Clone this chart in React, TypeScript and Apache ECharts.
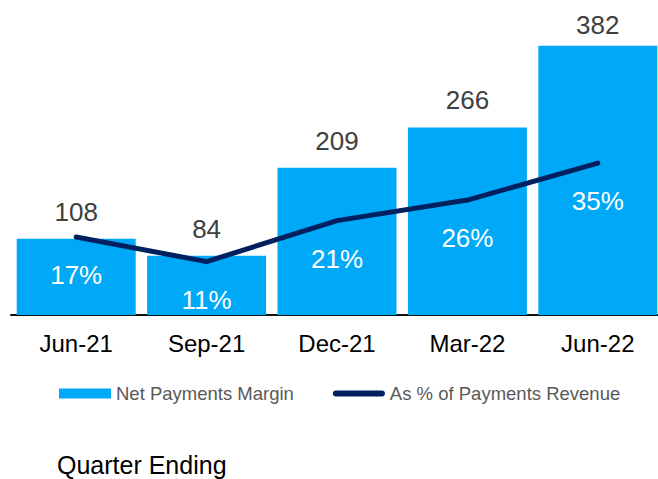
import React, { useEffect, useRef } from "react";
import * as echarts from "echarts";

const categories = ["Jun-21", "Sep-21", "Dec-21", "Mar-22", "Jun-22"];
const netPaymentsMargin = [108, 84, 209, 266, 382];
const pctOfPaymentsRevenue = [17, 11, 21, 26, 35];
const seriesNames = ["Net Payments Margin", "As % of Payments Revenue"];
const axisTitle = "Quarter Ending";

const FONT = '"Liberation Sans", Arial, Helvetica, sans-serif';
const BAR_COLOR = "#00A9F7";
const LINE_COLOR = "#002060";
const LINE_ICON = "path://M3,0 L49,0 A3,3 0 0 1 49,6 L3,6 A3,3 0 0 1 3,0 Z";

export default function App() {
  const ref = useRef<HTMLDivElement>(null);

  useEffect(() => {
    if (!ref.current) return;
    const chart = echarts.init(ref.current, undefined, { renderer: "svg" });
    const last = netPaymentsMargin.length - 1;
    chart.setOption({
      animation: false,
      textStyle: { fontFamily: FONT },
      graphic: [
        {
          type: "text",
          x: 57,
          y: 465,
          style: {
            text: axisTitle,
            font: `25px ${FONT}`,
            fill: "#000000",
            textVerticalAlign: "middle",
          },
        },
      ],
      legend: {
        left: 59,
        top: 384,
        padding: 0,
        itemWidth: 52,
        itemHeight: 10,
        itemGap: 39,
        symbolKeepAspect: true,
        textStyle: { fontFamily: FONT, fontSize: 18.5, color: "#595959" },
        data: [
          { name: seriesNames[0], icon: "rect" },
          { name: seriesNames[1], icon: LINE_ICON, itemStyle: { color: LINE_COLOR } },
        ],
      },
      grid: { left: 11, width: 652, top: 40, height: 275, containLabel: false, outerBoundsMode: "none" },
      xAxis: {
        type: "category",
        data: categories,
        axisTick: { show: false },
        axisLine: { lineStyle: { color: "#111111", width: 2 } },
        axisLabel: { fontFamily: FONT, fontSize: 24, color: "#000000", margin: 16 },
      },
      yAxis: [
        { type: "value", min: 0, max: 390, show: false, splitLine: { show: false } },
        { type: "value", min: -2, max: 65, show: false, splitLine: { show: false } },
      ],
      series: [
        {
          name: seriesNames[0],
          type: "bar",
          barWidth: 119,
          itemStyle: { color: BAR_COLOR },
          label: {
            show: true,
            position: "top",
            distance: 14,
            fontFamily: FONT,
            fontSize: 26,
            color: "#404040",
          },
          data: netPaymentsMargin.map((v, i) =>
            i === last ? { value: v, label: { distance: 8 } } : v
          ),
        },
        {
          name: seriesNames[1],
          type: "line",
          yAxisIndex: 1,
          symbol: "circle",
          symbolSize: 2,
          showSymbol: true,
          lineStyle: { color: LINE_COLOR, width: 5, cap: "round", join: "round" },
          itemStyle: { color: LINE_COLOR },
          label: {
            show: true,
            position: "bottom",
            distance: 24,
            fontFamily: FONT,
            fontSize: 26,
            color: "#ffffff",
            formatter: (p: any) => `${p.value}%`,
          },
          data: pctOfPaymentsRevenue,
          z: 3,
        },
      ],
    });
    return () => chart.dispose();
  }, []);

  return (
    <div
      ref={ref}
      style={{ position: "absolute", left: 0, top: 0, width: 658, height: 479, background: "#ffffff" }}
    />
  );
}
